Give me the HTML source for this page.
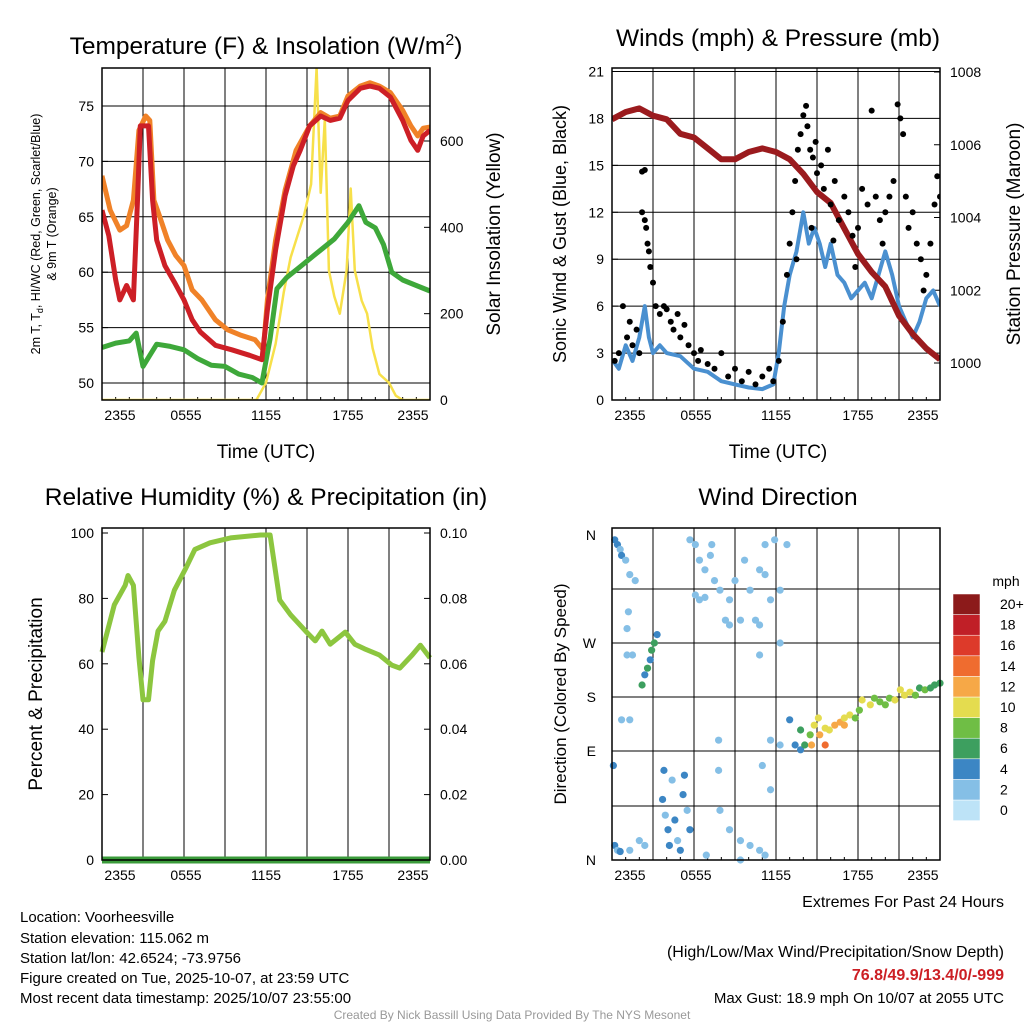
<!DOCTYPE html>
<html><head><meta charset="utf-8">
<style>
body{margin:0;background:#fff;}
svg{display:block;font-family:"Liberation Sans",sans-serif;}
</style></head>
<body>
<svg id="fig" width="1024" height="1024" viewBox="0 0 1024 1024">
<rect width="1024" height="1024" fill="#fff"/>
<text x="266" y="54" font-size="24.5" text-anchor="middle">Temperature (F) &amp; Insolation (W/m<tspan dy="-9" font-size="16">2</tspan><tspan dy="9">)</tspan></text>
<text x="778" y="46" font-size="24.5" text-anchor="middle">Winds (mph) &amp; Pressure (mb)</text>
<text x="266" y="505" font-size="24.5" text-anchor="middle">Relative Humidity (%) &amp; Precipitation (in)</text>
<text x="778" y="505" font-size="24.5" text-anchor="middle">Wind Direction</text>
<text x="266" y="458" font-size="19" text-anchor="middle">Time (UTC)</text>
<text x="778" y="458" font-size="19" text-anchor="middle">Time (UTC)</text>
<g font-size="12.5" text-anchor="middle">
<text transform="translate(40,234) rotate(-90)">2m T, T<tspan font-size="9" dy="3">d</tspan><tspan dy="-3">, HI/WC (Red, Green, Scarlet/Blue)</tspan></text>
<text transform="translate(56,234) rotate(-90)">&amp; 9m T (Orange)</text>
</g>
<text transform="translate(500,234) rotate(-90)" font-size="19" text-anchor="middle">Solar Insolation (Yellow)</text>
<text transform="translate(566,234) rotate(-90)" font-size="18" text-anchor="middle">Sonic Wind &amp; Gust (Blue, Black)</text>
<text transform="translate(1020,234) rotate(-90)" font-size="19" text-anchor="middle">Station Pressure (Maroon)</text>
<text transform="translate(42,694) rotate(-90)" font-size="19" text-anchor="middle">Percent &amp; Precipitation</text>
<text transform="translate(566,694) rotate(-90)" font-size="17" text-anchor="middle">Direction (Colored By Speed)</text>
<g font-size="15">
<text x="20" y="922">Location: Voorheesville</text>
<text x="20" y="943">Station elevation: 115.062 m</text>
<text x="20" y="963">Station lat/lon: 42.6524; -73.9756</text>
<text x="20" y="983">Figure created on Tue, 2025-10-07, at 23:59 UTC</text>
<text x="20" y="1003">Most recent data timestamp: 2025/10/07 23:55:00</text>
</g>
<g font-size="16" text-anchor="end">
<text x="1004" y="907">Extremes For Past 24 Hours</text>
<text x="1004" y="957">(High/Low/Max Wind/Precipitation/Snow Depth)</text>
<text x="1004" y="980" fill="#cc1f24" font-weight="bold">76.8/49.9/13.4/0/-999</text>
<text x="1004" y="1003" font-size="15">Max Gust: 18.9 mph On 10/07 at 2055 UTC</text>
</g>
<text x="512" y="1019" font-size="12" fill="#999" text-anchor="middle">Created By Nick Bassill Using Data Provided By The NYS Mesonet</text>
<g id="plots"></g>
</svg>
<script>
const tH_red=[0,0.5,1,1.3,1.8,2.3,2.6,2.8,3.4,3.7,4,4.6,5.3,6,6.6,7.2,8.3,9.5,10.8,11.7,12.1,12.7,13.4,14,14.5,15.2,16,16.7,17.4,18,18.9,19.6,20.3,21.1,22,22.6,23.1,23.5,24];
const tempRed=[65.6,63.3,59.3,57.5,58.8,57.5,66.5,73.2,73.2,66.5,62.9,60.6,59.1,57.5,55.7,54.6,53.4,53,52.5,52.1,56.6,62,66.9,69.6,71,73.2,74.1,73.7,73.9,75.5,76.6,76.8,76.6,75.8,73.7,71.9,71,72.3,72.8];
const tH_orange=[0,0.6,1.3,1.8,2.3,2.7,3.2,3.5,3.8,4.2,4.8,5.4,6,6.6,7.3,8.3,9.2,10.2,11.2,11.8,12.1,12.7,13.4,14.2,15.2,16,16.7,17.4,18,18.9,19.6,20.3,21.1,22,22.6,23.1,23.5,24];
const tempOrange=[68.7,65.6,63.8,64.2,66.5,72.8,74.1,73.7,66.5,65.1,62.9,61.5,60.6,58.4,57.5,55.7,54.8,54.3,53.9,53,57.5,62.9,67.4,71,73.2,74.4,73.9,74.1,75.9,76.8,77.1,76.8,76.2,74.6,73.2,72.3,73,73.1];
const tH_green=[0,1,2,2.5,3,3.5,4,5,6,7,8,9,10,11,11.7,12.3,12.8,13.5,14.5,15.5,16,17,18,18.8,19.3,20,20.6,21.2,22,23,24];
const tempGreen=[53.2,53.6,53.8,54.5,51.5,52.5,53.5,53.3,53,52.2,51.6,51.5,50.8,50.5,50,54,58.5,59.5,60.5,61.5,62,63,64.5,66,64.5,64,62.5,60,59.3,58.8,58.3];
const tH_sun=[0,11.3,12,12.7,13.3,13.8,14.3,14.8,15.3,15.7,16,16.3,16.6,17,17.4,17.9,18.2,18.5,19,19.4,19.8,20.3,21,21.5,22,24];
const insolation=[0,0,40,130,250,330,380,430,500,770,480,650,300,240,200,300,490,300,230,200,120,60,40,10,0,0];
const tempTicks=[50,55,60,65,70,75];
const sunTicks=[0,200,400,600];
const timeLabels=["2355","0555","1155","1755","2355"];

const pH=[0,1,2,3,4,5,6,7,8,9,10,11,12,13,14,15,16,17,18,19,20,21,22,23,24];
const pressure=[1006.7,1006.9,1007,1006.8,1006.7,1006.3,1006.2,1005.9,1005.6,1005.6,1005.8,1005.9,1005.8,1005.6,1005.2,1004.7,1004.4,1003.7,1003.0,1002.5,1002.1,1001.3,1000.8,1000.4,1000.1];
const windH=[0,0.5,1,1.5,2,2.4,2.7,3,3.5,4,5,6,7,8,9,10,11,11.8,12.2,12.6,13,13.5,14,14.4,14.8,15.2,15.6,16,16.5,17,17.5,18,18.5,19,19.5,20,20.5,21,21.5,22,22.5,23,23.5,24];
const windSpd=[2.6,2,3.5,2.5,4,6,4,3,3.5,3,2.8,2,1.8,1.2,1,0.8,0.7,1,3,6,8,9.5,12,10,11,10,8.5,10,8,7.5,6.5,7,7.5,6.5,8,9.5,8,6,5,4,5,6.5,7,6];
const gustH=[0.2,0.5,0.8,1.1,1.3,1.5,1.8,2.0,2.2,2.4,2.2,2.4,2.5,2.6,2.8,3.0,3.2,2.7,3.5,3.8,4,4.3,4.5,4.8,5,5.3,5.6,6,6.3,6.5,7,7.5,8,8.5,9,9.5,10,10.5,11,11.5,11.8,12.2,12.5,13,13.2,13.4,13.6,13.8,14,14.2,14.3,14.5,14.7,14.9,15,15.3,15.5,15.8,16,16.3,16.6,17,17.3,17.6,18,18.3,18.7,19,19.3,19.6,20,20.3,20.6,20.9,21.1,21.3,21.5,21.7,22,22.3,22.6,23,23.3,23.6,23.8,24,13.5,14.6,16.2,17.8,19.8,22.8,12.8];
const gust=[2.5,3,6,4,5,3.5,4.5,3,14.6,14.7,12,11.5,11,10,8.5,7.5,6,9.5,5.5,6,5.8,5,4.5,5.5,4,4.8,3.5,3,2.5,3.2,2.3,2,3,1.5,2,1.2,1.8,1,1.5,2,1.2,2.5,5,10,12,14,16,17,18.2,18.8,17.5,16,15.5,16.5,14.5,15,13.5,16,12.5,14,11.5,13,12,10.5,11,13.5,12.5,18.5,13,11.5,12,13,14,18.9,18,17,13,11,12,10,9,8,10,12.5,14.3,13,9,11,10.2,8.5,10,7,8];
const windTicks=[0,3,6,9,12,15,18,21];
const presTicks=[1000,1002,1004,1006,1008];

const rhH=[0,0.9,1.7,1.9,2.3,2.7,3.0,3.4,3.7,4.1,4.6,5.3,6.1,6.8,7.9,9.4,11.6,12.3,13.0,13.8,14.9,15.6,16.1,16.7,17.8,18.5,19.2,20.3,21.2,21.8,22.7,23.3,24];
const rh=[63.6,78,84,87,84,62,49,49,61,70,73,82.5,89,95,97,98.5,99.4,99.4,79.5,75,70,67,70,66,69.7,66,64.6,62.7,59.6,58.7,62.7,65.7,61.8];
const precip=[0,0];
const rhTicks=[0,20,40,60,80,100];
const precipTicks=["0.00","0.02","0.04","0.06","0.08","0.10"];

const dirH=[0.2,0.4,0.6,0.7,1.0,1.3,1.7,1.2,1.1,1.1,1.5,2.6,2.8,2.9,3.1,3.3,2.4,2.2,0.7,1.3,0.1,0.2,0.4,0.6,1.3,2.0,2.4,3.7,3.9,4.1,4.2,4.6,4.8,5.0,5.3,5.5,5.7,5.2,4.4,3.8,6.9,7.8,7.8,5.7,6.1,6.4,6.8,7.2,7.3,7.5,7.9,6.4,6.1,6.8,8.6,9.0,9.4,9.7,10.1,10.5,10.8,11.2,11.6,12.3,8.3,8.6,10.8,12.3,10.8,12.8,11.9,11.2,7.9,8.6,9.4,10.1,11.2,10.8,11.0,11.6,9.4,13.0,13.4,13.8,14.1,14.5,14.8,15.2,15.6,15.9,16.3,16.7,17.0,17.4,17.8,18.1,18.3,18.9,19.2,19.6,20.0,20.3,20.7,21.1,21.4,21.8,22.2,22.5,22.9,23.3,23.6,24.0,12.3,11.6,13.8,14.6,15.6,15.1,17.0];
const dirDeg=[356,352,348,343,339,327,322,296,282,250,250,228,242,258,270,277,217,200,142,142,78,12,8,7,8,16,12,50,37,25,12,33,16,8,70,41,25,54,66,74,4,108,74,356,352,339,331,343,352,322,314,306,310,308,306,322,289,339,314,289,331,327,306,314,289,285,285,270,250,352,356,352,41,25,16,12,4,8,78,58,0,142,100,92,100,117,133,117,128,125,133,138,145,150,145,158,175,167,178,172,167,178,175,192,183,188,183,195,192,195,200,203,100,108,125,100,100,145,133];
const dirSpd=[4,4,2,4,2,1,1,1,1,1,1,6,4,6,6,4,4,6,2,1,3,3,2,3,1,2,1,3,2,3,3,3,2,3,3,2,3,3,2,3,1,1,1,1,1,2,1,1,1,2,1,2,2,1,1,1,1,1,1,1,1,1,1,1,1,1,1,1,1,1,1,1,2,1,1,1,1,2,1,1,1,4,3,4,6,8,10,12,10,10,11,12,10,9,8,8,10,9,8,7,8,7,9,10,9,9,8,6,8,6,5,6,2,2,5,12,13,10,11];
const dirLabels=["N","E","S","W","N"];
const spdLevels=["0","2","4","6","8","10","12","14","16","18","20+"];
const spdColors=["#bde3f7","#85bfe6","#3c86c4","#3d9f5f","#6fbe45","#e4dc4f","#f6a847","#ef6c2f","#dd3a2a","#c01f27","#8c1a1a"];

const NS="http://www.w3.org/2000/svg";
const root=document.getElementById('plots');
function mk(tag,attrs,parent){const e=document.createElementNS(NS,tag);for(const k in attrs)e.setAttribute(k,attrs[k]);(parent||root).appendChild(e);return e;}
function lin(d0,d1,r0,r1){return v=>r0+(v-d0)/(d1-d0)*(r1-r0);}
function pathD(xs,ys,fx,fy){return xs.map((h,i)=>(i?'L':'M')+fx(h).toFixed(1)+','+fy(ys[i]).toFixed(1)).join('');}

function frame(x0,y0,x1,y1,name){
  const g=mk('g',{});
  
  
  const fx=lin(0,24,x0,x1);
  for(let h=3;h<24;h+=3){const l=mk('line',{x1:fx(h),x2:fx(h),y1:y0,y2:y1,stroke:'#000','stroke-width':1},g);
    
    }
  timeLabels.forEach((t,i)=>{const xx=[x0+18,x0+84,x0+164,x0+246,x0+311][i];
    const tx=mk('text',{x:xx,y:y1+20,'font-size':14,'text-anchor':'middle'},g);tx.textContent=t;
    
    });
  for(let h=0;h<=24;h+=1){mk('line',{x1:fx(h),x2:fx(h),y1:y1,y2:y1-(h%6?3:6),stroke:'#000'},g);}
  return {g,fx};
}
function box(x0,y0,x1,y1,g){const r=mk('rect',{x:x0,y:y0,width:x1-x0,height:y1-y0,fill:'none',stroke:'#000','stroke-width':1.5},g);
  
  }
function leftTicks(vals,fy,x0,g,labels,grid,x1){vals.forEach((v,i)=>{const y=fy(v);
  if(grid){const l=mk('line',{x1:x0,x2:x1,y1:y,y2:y,stroke:'#000','stroke-width':1},g);
    
    }
  mk('line',{x1:x0,x2:x0+6,y1:y,y2:y,stroke:'#000'},g);
  const t=mk('text',{x:x0-8,y:y+5,'font-size':14,'text-anchor':'end'},g);t.textContent=labels?labels[i]:v;
  
  });}
function rightTicks(vals,fy,x1,g,labels){vals.forEach((v,i)=>{const y=fy(v);
  mk('line',{x1:x1,x2:x1-6,y1:y,y2:y,stroke:'#000'},g);
  const t=mk('text',{x:x1+10,y:y+5,'font-size':14},g);t.textContent=labels?labels[i]:v;
  
  });}

(function(){
 const x0=102,y0=68,x1=430,y1=400;
 const {g,fx}=frame(x0,y0,x1,y1,'temperature-panel');
 const fy=lin(50,75,383,106), fs=lin(0,600,400,141);
 leftTicks(tempTicks,fy,x0,g,null,true,x1);
 rightTicks(sunTicks,fs,x1,g);
 const clip=mk('clipPath',{id:'c1'},g);mk('rect',{x:x0,y:y0,width:x1-x0,height:y1-y0},clip);
 const pg=mk('g',{'clip-path':'url(#c1)'},g);
 const series=[[tH_sun,insolation,fs,'#f7e04a',2.5,'insolation-line'],[tH_green,tempGreen,fy,'#3ea83a',5,'dewpoint-line'],[tH_orange,tempOrange,fy,'#f08228',5,'temp-9m-line'],[tH_red,tempRed,fy,'#cd1f26',5,'temp-2m-line']];
 series.forEach(s=>{const p=mk('path',{d:pathD(s[0],s[1],fx,s[2]),fill:'none',stroke:s[3],'stroke-width':s[4],'stroke-linejoin':'round'},pg);
   
   });
 box(x0,y0,x1,y1,g);
})();

(function(){
 const x0=612,y0=68,x1=940,y1=400;
 const {g,fx}=frame(x0,y0,x1,y1,'winds-panel');
 const fy=lin(0,21,400,71.5), fp=lin(1000,1008,363,72);
 leftTicks(windTicks,fy,x0,g,null,true,x1);
 rightTicks(presTicks,fp,x1,g);
 const clip=mk('clipPath',{id:'c2'},g);mk('rect',{x:x0,y:y0,width:x1-x0,height:y1-y0},clip);
 const pg=mk('g',{'clip-path':'url(#c2)'},g);
 const w=mk('path',{d:pathD(windH,windSpd,fx,fy),fill:'none',stroke:'#4a90d0','stroke-width':4,'stroke-linejoin':'round'},pg);
 
 
 const p=mk('path',{d:pathD(pH,pressure,fx,fp),fill:'none',stroke:'#9b1b1e','stroke-width':6,'stroke-linejoin':'round'},pg);
 
 
 gustH.forEach((h,i)=>{const c=mk('circle',{cx:fx(h),cy:fy(gust[i]),r:3,fill:'#000'},pg);
   
   });
 box(x0,y0,x1,y1,g);
})();

(function(){
 const x0=102,y0=528,x1=430,y1=860;
 const {g,fx}=frame(x0,y0,x1,y1,'humidity-panel');
 const fy=lin(0,100,860,533);
 leftTicks(rhTicks,fy,x0,g,null,false,x1);
 rightTicks(rhTicks,fy,x1,g,precipTicks);
 const pr=mk('line',{x1:fx(0),x2:fx(24),y1:fy(precip[0]),y2:fy(precip[1]),stroke:'#3b9b3b','stroke-width':7},g);
 
 
 const p=mk('path',{d:pathD(rhH,rh,fx,fy),fill:'none',stroke:'#8cc63f','stroke-width':5,'stroke-linejoin':'round'},g);
 
 
 box(x0,y0,x1,y1,g);
})();

(function(){
 const x0=612,y0=528,x1=940,y1=860;
 const {g,fx}=frame(x0,y0,x1,y1,'wind-direction-panel');
 const fy=d=>d<=90?lin(0,90,860,751)(d):d<=180?lin(90,180,751,697)(d):d<=270?lin(180,270,697,643)(d):lin(270,360,643,535)(d);
 [589,643,697,751,806].forEach(y=>{const l=mk('line',{x1:x0,x2:x1,y1:y,y2:y,stroke:'#000'},g);
   
   });
 [0,90,180,270,360].forEach((d,i)=>{const t=mk('text',{x:x0-16,y:fy(d)+5,'font-size':14,'text-anchor':'end'},g);t.textContent=dirLabels[i];
   
   });
 dirH.forEach((h,i)=>{const k=Math.min(10,Math.round(dirSpd[i]/2));
   const c=mk('circle',{cx:fx(h),cy:fy(dirDeg[i]),r:3.6,fill:spdColors[k]},g);
   
   });
 box(x0,y0,x1,y1,g);
 const cb=mk('g',{},root);
 
 
 const t=mk('text',{x:1006,y:586,'font-size':14,'text-anchor':'middle'},cb);t.textContent='mph';
 spdLevels.forEach((lv,i)=>{const y=800-i*20.6;
   mk('rect',{x:953,y:y,width:27,height:20.6,fill:spdColors[i],stroke:'#fff','stroke-width':0.5},cb);
   const tx=mk('text',{x:1000,y:y+15,'font-size':14},cb);tx.textContent=lv;});
})();
</script>
</body></html>
